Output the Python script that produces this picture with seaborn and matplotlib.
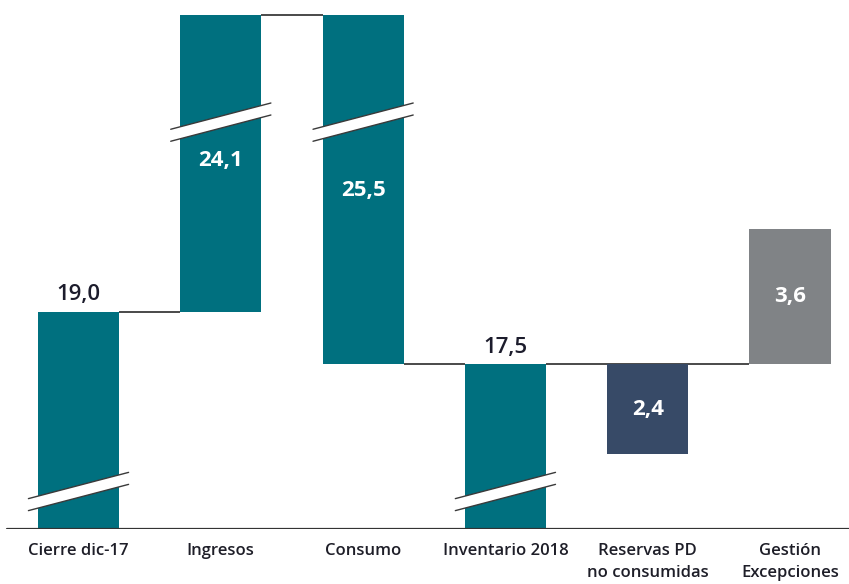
import numpy as np
import pandas as pd
import matplotlib
matplotlib.use("Agg")
import matplotlib.pyplot as plt
from matplotlib.patches import Polygon
import seaborn as sns

# --- data -------------------------------------------------------------
categories = ["Cierre dic-17", "Ingresos", "Consumo", "Inventario 2018",
              "Reservas PD\nno consumidas", "Gestión\nExcepciones"]
values = [19.0, 24.1, 25.5, 17.5, 2.4, 3.6]
# total: starts at zero; up/down: moves the running level;
# below/above: hangs off the current level without moving it
kinds = ["total", "up", "down", "total", "below", "above"]
# part of each bar hidden behind the axis break
hidden = [13.2, 16.2, 16.2, 13.1, 0.0, 0.0]
value_labels = ["19,0", "24,1", "25,5", "17,5", "2,4", "3,6"]

TEAL = "#00707F"
NAVY = "#374A67"
GREY = "#808386"
colors = [TEAL, TEAL, TEAL, TEAL, NAVY, GREY]

# --- waterfall geometry (in displayed units) ----------------------------
bottoms, tops, levels = [], [], []
level = 0.0
for v, k, h in zip(values, kinds, hidden):
    shown = v - h
    if k == "total":
        b, t = 0.0, shown
        level = t
    elif k == "up":
        b, t = level, level + shown
        level = t
    elif k == "down":
        b, t = level - shown, level
        level = b
    elif k == "below":
        b, t = level - shown, level
    else:
        b, t = level, level + shown
    bottoms.append(b)
    tops.append(t)
    levels.append(level)

df = pd.DataFrame({"categoria": categories,
                   "alto": np.array(tops) - np.array(bottoms),
                   "base": bottoms})

# --- figure -----------------------------------------------------------
sns.set_theme(style="white")
plt.rcParams["font.family"] = ["Open Sans", "DejaVu Sans"]

fig = plt.figure(figsize=(8.49, 5.84), dpi=100)
ax = fig.add_axes([0, 55 / 584, 1, 529 / 584])

width = 0.57
sns.barplot(data=df, x="categoria", y="alto", bottom=df["base"].to_numpy(),
            width=width, color=TEAL, saturation=1, ax=ax, zorder=2,
            linewidth=0)
for patch, c in zip(ax.patches, colors):
    patch.set_facecolor(c)
    patch.set_edgecolor(c)

x = np.arange(len(categories))
ax.set_xlim(-0.5517, 5.4146)
ax.set_ylim(0, 14.107)

# connectors between consecutive bars
conn = dict(color="#2b2b2b", lw=1.2, zorder=1, solid_capstyle="butt")
ax.plot([x[0] + width / 2, x[1] - width / 2], [levels[0]] * 2, **conn)
ax.plot([x[1] + width / 2, x[2] - width / 2], [levels[1]] * 2, **conn)
ax.plot([x[2] + width / 2, x[3] - width / 2], [levels[2]] * 2, **conn)
ax.plot([x[3] + width / 2, x[5] - width / 2], [levels[3]] * 2, **conn)

# axis-break marks on the shortened bars
half_w, rise, gap = 0.352, 0.35, 0.16
top_of_chart = max(tops)
for i, h in enumerate(hidden):
    if h <= 0:
        continue
    yc = bottoms[i] + 1.0 if kinds[i] == "total" else top_of_chart - 2.85
    x0, x1 = x[i] - half_w, x[i] + half_w
    poly = Polygon([(x0, yc - rise - gap), (x1, yc + rise - gap),
                    (x1, yc + rise + gap), (x0, yc - rise + gap)],
                   closed=True, facecolor="white", edgecolor="none", zorder=3)
    ax.add_patch(poly)
    for s in (-gap, gap):
        ax.plot([x0, x1], [yc - rise + s, yc + rise + s], color="#3a3a3a",
                lw=1.0, zorder=4)

# value labels
label_y = {0: tops[0] + 0.45, 1: top_of_chart - 3.86, 2: top_of_chart - 4.66,
           3: tops[3] + 0.45}
for i, lab in enumerate(value_labels):
    if i in (0, 3):
        ax.text(x[i], label_y[i], lab, ha="center", va="center",
                fontsize=16, fontweight="semibold", color="#1c1c2c", zorder=5)
    else:
        y = label_y.get(i, (bottoms[i] + tops[i]) / 2)
        ax.text(x[i], y, lab, ha="center", va="center", fontsize=16,
                fontweight="bold", color="white", zorder=5)

# baseline and category labels
ax.axhline(0, xmin=7 / 849, xmax=1, color="#333333", lw=1.6, zorder=6)
for sp in ax.spines.values():
    sp.set_visible(False)
ax.set_yticks([])
ax.set_xlabel("")
ax.set_ylabel("")
ax.set_xticks(x)
ax.set_xticklabels(categories, fontsize=12, fontweight="semibold",
                   color="#1e1e28", linespacing=1.55)
ax.tick_params(axis="x", length=0, pad=10)

fig.savefig("out.png", dpi=100, facecolor="white")
